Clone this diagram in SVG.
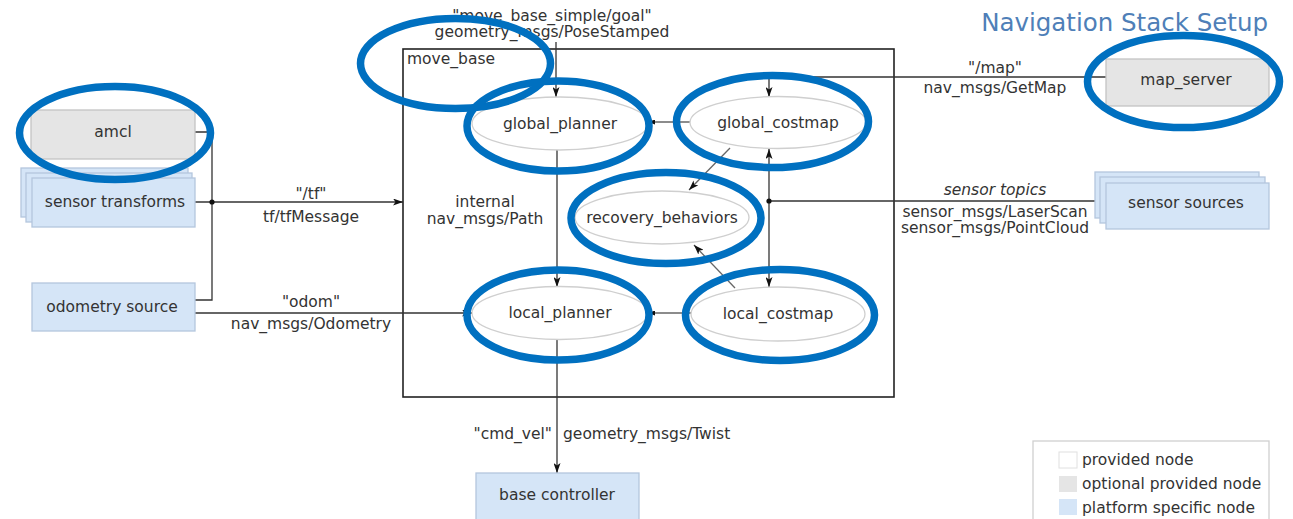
<svg xmlns="http://www.w3.org/2000/svg" width="1293" height="519" viewBox="0 0 1293 519">
<defs>
<style>
text{font-family:"DejaVu Sans","Liberation Sans",sans-serif;font-size:15.5px;fill:#333}
.c{text-anchor:middle}
.title{font-size:24.5px;fill:#4f7fb8;text-anchor:end}
.gray{fill:#e5e5e5;stroke:#c4c4c4;stroke-width:1.3}
.blue{fill:#d5e5f7;stroke:#b4c6dd;stroke-width:1.3}
.ell{fill:#fff;stroke:#cfcfcf;stroke-width:1.3}
.ln{fill:none;stroke:#333;stroke-width:1.3}
.lg{fill:none;stroke:#666;stroke-width:1.3}
.ann{fill:none;stroke:#0070c0;stroke-width:7.5}
</style>
<marker id="ar" viewBox="0 0 10 7" refX="10" refY="3.5" markerWidth="10" markerHeight="7" markerUnits="userSpaceOnUse" orient="auto">
<path d="M0,0 L10,3.5 L0,7 L2.5,3.5 z" fill="#111"/>
</marker>
<marker id="as" viewBox="0 0 10 7" refX="10" refY="3.5" markerWidth="7" markerHeight="5" markerUnits="userSpaceOnUse" orient="auto">
<path d="M0,0 L10,3.5 L0,7 z" fill="#111"/>
</marker>
</defs>
<rect width="1293" height="519" fill="#fff"/>
<text class="title" x="1268" y="31">Navigation Stack Setup</text>

<g id="move_base">
<rect x="403" y="49" width="491" height="348" fill="none" stroke="#222" stroke-width="1.6"/>
<text x="407" y="64">move_base</text>
</g>

<g id="connectors">
<path class="ln" d="M195,132 H212 V300 H195"/>
<path class="ln" d="M195,202 H403" marker-end="url(#ar)"/>
<circle cx="212" cy="202" r="2.6" fill="#111"/>
<text class="c" x="311" y="199">"/tf"</text>
<text class="c" x="311" y="222">tf/tfMessage</text>
<path class="ln" d="M195,313 H472" marker-end="url(#ar)"/>
<text class="c" x="311" y="307">"odom"</text>
<text class="c" x="311" y="329">nav_msgs/Odometry</text>
<path class="ln" d="M556,42 V97" marker-end="url(#ar)"/>
<text class="c" x="552" y="21">"move_base_simple/goal"</text>
<text class="c" x="552" y="37">geometry_msgs/PoseStamped</text>
<path class="ln" d="M557,150 V287" marker-end="url(#ar)"/>
<text class="c" x="485" y="207">internal</text>
<text class="c" x="485" y="224">nav_msgs/Path</text>
<path class="lg" d="M690,122 H648" marker-end="url(#as)"/>
<path class="lg" d="M692,313 H648" marker-end="url(#as)"/>
<path class="ln" d="M1106,77 H769 V97" marker-end="url(#ar)"/>
<text class="c" x="995" y="73">"/map"</text>
<text class="c" x="995" y="93">nav_msgs/GetMap</text>
<path class="ln" d="M1095,201 H769"/>
<path class="ln" d="M769,201 V149" marker-end="url(#ar)"/>
<path class="ln" d="M769,201 V287" marker-end="url(#ar)"/>
<circle cx="769" cy="201" r="2.6" fill="#111"/>
<text class="c" x="995" y="195" font-style="italic">sensor topics</text>
<text class="c" x="995" y="217">sensor_msgs/LaserScan</text>
<text class="c" x="995" y="233">sensor_msgs/PointCloud</text>
<path class="lg" d="M730,148 L689,190" marker-end="url(#ar)"/>
<path class="lg" d="M735,288 L694,245" marker-end="url(#ar)"/>
<path class="ln" d="M557,339 V473" marker-end="url(#ar)"/>
<text x="552" y="439" text-anchor="end">"cmd_vel"</text>
<text x="563" y="439">geometry_msgs/Twist</text>
</g>

<g id="amcl">
<rect class="gray" x="31" y="110" width="164" height="49"/>
<text class="c" x="113" y="137">amcl</text>
</g>
<g id="sensor_transforms">
<rect class="blue" x="21" y="168" width="167" height="49"/>
<rect class="blue" x="26" y="173" width="166" height="49"/>
<rect class="blue" x="32" y="178" width="163" height="49"/>
<text class="c" x="115" y="207">sensor transforms</text>
</g>
<g id="odometry_source">
<rect class="blue" x="32" y="283" width="163" height="48"/>
<text class="c" x="112" y="312">odometry source</text>
</g>
<g id="global_planner">
<ellipse class="ell" cx="560" cy="123.5" rx="88" ry="26.5"/>
<text class="c" x="560" y="129">global_planner</text>
</g>
<g id="global_costmap">
<ellipse class="ell" cx="778" cy="122.5" rx="88" ry="26"/>
<text class="c" x="778" y="128">global_costmap</text>
</g>
<g id="recovery_behaviors">
<ellipse class="ell" cx="662" cy="217.5" rx="87" ry="26.5"/>
<text class="c" x="662" y="223">recovery_behaviors</text>
</g>
<g id="local_planner">
<ellipse class="ell" cx="560" cy="313" rx="88" ry="26.5"/>
<text class="c" x="560" y="318">local_planner</text>
</g>
<g id="local_costmap">
<ellipse class="ell" cx="778" cy="314" rx="87" ry="27"/>
<text class="c" x="778" y="319">local_costmap</text>
</g>
<g id="map_server">
<rect class="gray" x="1106" y="59" width="163" height="47"/>
<text class="c" x="1186" y="85">map_server</text>
</g>
<g id="sensor_sources">
<rect class="blue" x="1095" y="172" width="164" height="46"/>
<rect class="blue" x="1100" y="177" width="165" height="46"/>
<rect class="blue" x="1106" y="183" width="163" height="46"/>
<text class="c" x="1186" y="208">sensor sources</text>
</g>
<g id="base_controller">
<rect class="blue" x="476" y="473" width="163" height="52"/>
<text class="c" x="557" y="500">base controller</text>
</g>
<g id="legend">
<rect x="1033" y="441" width="236" height="84" fill="#fff" stroke="#d0d0d0" stroke-width="1.3"/>
<rect x="1059" y="452" width="18" height="16" fill="#fff" stroke="#e0e0e0"/>
<rect x="1059" y="476" width="18" height="16" fill="#e5e5e5"/>
<rect x="1059" y="499" width="18" height="16" fill="#d5e5f7"/>
<text x="1082" y="465">provided node</text>
<text x="1082" y="489">optional provided node</text>
<text x="1082" y="513">platform specific node</text>
</g>

<g id="annotations">
<ellipse class="ann" cx="455.5" cy="63.5" rx="95" ry="45"/>
<ellipse class="ann" cx="115" cy="133" rx="95.5" ry="46.5"/>
<ellipse class="ann" cx="558" cy="126" rx="91" ry="45"/>
<ellipse class="ann" cx="772.5" cy="121.5" rx="96" ry="46"/>
<ellipse class="ann" cx="666" cy="218" rx="95" ry="45.5"/>
<ellipse class="ann" cx="558" cy="315" rx="91" ry="45"/>
<ellipse class="ann" cx="780" cy="315" rx="94.5" ry="45.5"/>
<ellipse class="ann" cx="1183.5" cy="81.5" rx="96" ry="46"/>
</g>
</svg>
